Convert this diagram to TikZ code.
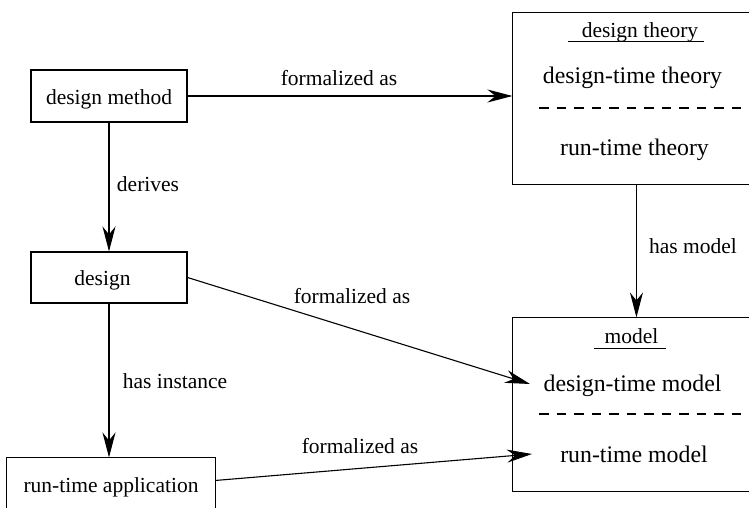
\documentclass[tikz,border=0pt]{standalone}
\usepackage{fontspec}
\setmainfont{Liberation Serif}
\usetikzlibrary{arrows.meta,calc}
\begin{document}
\begin{tikzpicture}[x=1pt,y=-1pt,line width=1.1pt,
  box/.style={draw,rectangle,inner sep=0pt},
  openbox/.style={rectangle,inner sep=0pt},
  smallfont/.style={font=\fontsize{21.5}{26}\selectfont},
  bigfont/.style={font=\fontsize{23.8}{28}\selectfont},
  lbl/.style={smallfont,anchor=base,inner sep=0pt},
  big/.style={bigfont,anchor=base,inner sep=0pt},
  conn/.style={-{Stealth[length=25pt,width=13pt,inset=8pt]}},
  sep/.style={dash pattern=on 9.5pt off 8pt}]
\useasboundingbox (0,0) rectangle (749,508);
% left boxes
\node[box,smallfont,minimum width=156pt,minimum height=52pt,text height=18pt,text depth=0pt] (dm) at (109,96) {design method};
\node[box,smallfont,minimum width=156pt,minimum height=51pt,text height=15pt,text depth=0pt,text width=140pt,align=center] (design) at (109,277.5) {\hspace*{-13pt}design};
\node[openbox,smallfont,minimum width=208pt,minimum height=62pt,text height=12pt,text depth=6pt] (rta) at (111,489) {run-time application};
\draw (rta.south west) -- (rta.north west) -- (rta.north east) -- (rta.south east);
% theory box (right side runs to the picture edge)
\node[openbox,minimum width=236pt,minimum height=171pt] (theory) at (631,98.5) {};
\draw (theory.north east) -- (theory.north west) -- (theory.south west) -- (theory.south east);
\node[lbl] (ttitle) at (640,38) {design theory};
\draw[line width=1pt] (568,42) -- (704,42);
\node[big] (tdt) at (632.5,84) {design-time theory};
\draw[sep] (539,108) -- (742,108);
\node[big] (trt) at (634.5,155) {run-time theory};
% model box
\node[openbox,minimum width=236pt,minimum height=173pt] (model) at (631,404.5) {};
\draw (model.north east) -- (model.north west) -- (model.south west) -- (model.south east);
\node[lbl] (mtitle) at (631.5,343) {model};
\draw[line width=1pt] (594,348) -- (666,348);
\node[big] (mdt) at (632.5,391) {design-time model};
\draw[sep] (539,414) -- (742,414);
\node[big] (mrt) at (634,462) {run-time model};
% connectors
\coordinate (hm) at ($(theory.south west)+(124,0)$);
\coordinate (dtm) at (530,384);
\coordinate (rtm) at (532,454);
\draw[conn] (dm.east) -- (dm.east -| theory.west);
\draw[conn] (dm.south) -- (design.north);
\draw[conn] (design.south) -- (design.south |- rta.north);
\draw[conn] (hm) -- (hm |- model.north);
\draw[conn] (design.east) -- (dtm);
\draw[conn] ($(rta.north east)+(0,23)$) -- (rtm);
% labels
\node[lbl] (l1) at (339,86) {formalized as};
\node[lbl] (l2) at (148,191) {derives};
\node[lbl] (l3) at (693,253) {has model};
\node[lbl] (l4) at (352,303) {formalized as};
\node[lbl] (l5) at (175,388) {has instance};
\node[lbl] (l6) at (360,453) {formalized as};
\end{tikzpicture}
\end{document}
